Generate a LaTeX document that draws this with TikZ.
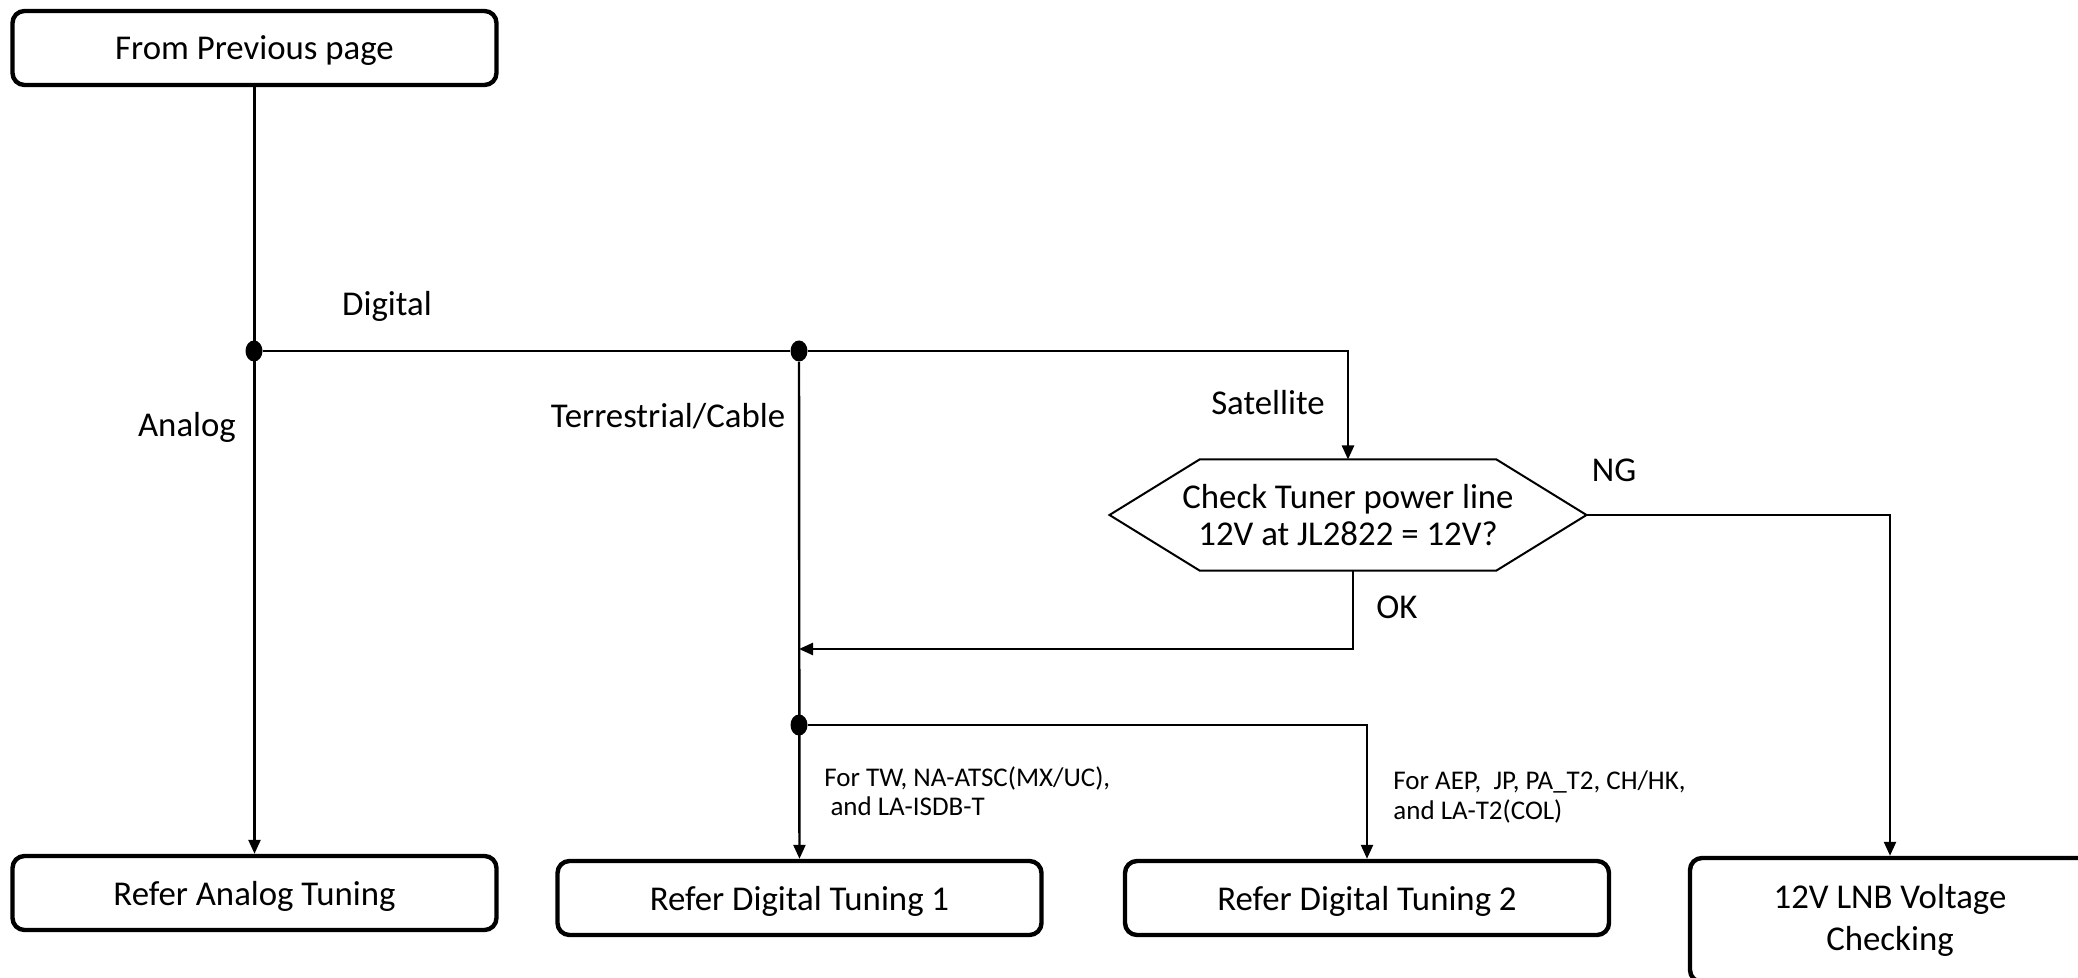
\documentclass[tikz,border=0pt]{standalone}
\usepackage{fontspec}
\setmainfont{Carlito}
\usetikzlibrary{arrows.meta,positioning,shapes.geometric}
\tikzset{
  box/.style={draw,line width=2.2pt,rounded corners=6pt,align=center,font=\fontsize{17.4}{21}\selectfont,
    minimum width=#1,minimum height=37pt,inner sep=2pt},
  box/.default=242pt,
  flat/.style={text depth=0pt},
  hexa/.style={minimum width=238.5pt,minimum height=55.5pt,inner sep=0pt,outer sep=0pt,align=center,
    font=\fontsize{17.4}{18.5}\selectfont},
  flow/.style={-{Triangle[length=7pt,width=6pt]},line width=1.2pt},
  wire/.style={line width=1.2pt},
  dot/.style={ellipse,fill,inner sep=0pt,minimum width=8.5pt,minimum height=10.5pt},
  lbl/.style={font=\fontsize{17.4}{18.5}\selectfont,inner sep=0pt},
  note/.style={font=\fontsize{13.5}{14.6}\selectfont,align=left,inner sep=0pt,anchor=west},
}
\begin{document}
\begin{tikzpicture}[x=0.5pt,y=-0.5pt]
  \useasboundingbox (0,0) rectangle (2078,978);
  \clip (0,0) rectangle (2078,978);
  \node[box,flat] (prev) at (254.5,48) {From Previous page};
  \node[box,flat] (anlg) at (254.5,893) {Refer Analog Tuning};
  \node[box,flat] (dig1) at (799.5,898) {Refer Digital Tuning 1};
  \node[box,flat] (dig2) at (1367,898) {Refer Digital Tuning 2};
  \node[box=200pt,minimum height=62pt] (lnb) at (1890,920) {12V LNB Voltage\\Checking};
  \node[hexa] (chk) at (1348,515) {Check Tuner power line\\12V at JL2822 = 12V?};
  \draw[line width=1pt] (chk.west) -- ([xshift=45pt]chk.north west) -- ([xshift=-45pt]chk.north east)
    -- (chk.east) -- ([xshift=-45pt]chk.south east) -- ([xshift=45pt]chk.south west) -- cycle;
  % junctions
  \node[dot] (j1) at (254,351) {};
  \node[dot] (j2) at (799,351) {};
  \node[dot] (j3) at (799,725) {};
  \coordinate (okin) at (799,649);
  % connectors
  \draw[flow] (prev) -- (anlg);
  \draw[wire] (j1) -- (j2);
  \draw[flow] (j2) -| (chk.north);
  \draw[flow] (j2) -- (dig1);
  \draw[flow] ([xshift=2.5pt]chk.south) |- (okin);
  \draw[flow] (chk.east) -| (lnb.north);
  \draw[flow] (j3) -| (dig2.north);
  % labels
  \node[lbl] at (387,306) {Digital};
  \node[lbl] at (187,427) {Analog};
  \node[lbl] at (668,416) {Terrestrial/Cable};
  \node[lbl] at (1268,403) {Satellite};
  \node[lbl] at (1614,470) {NG};
  \node[lbl] at (1397,607) {OK};
  \node[note] at (824,791) {For TW, NA-ATSC(MX/UC),\\\ and LA-ISDB-T};
  \node[note] at (1393,797) {For AEP,\ \ JP, PA\_T2, CH/HK,\\and LA-T2(COL)};
\end{tikzpicture}
\end{document}
